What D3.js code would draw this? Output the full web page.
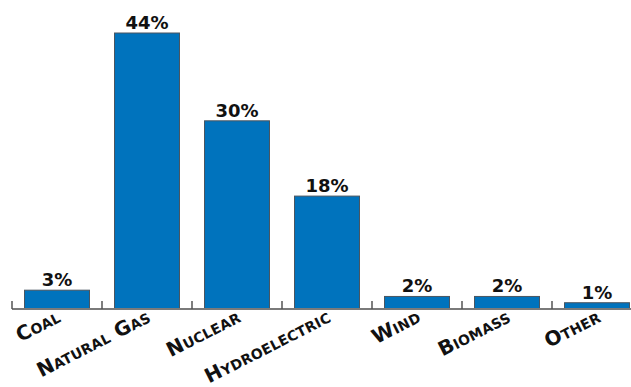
<!DOCTYPE html>
<html>
<head>
<meta charset="utf-8">
<script src="https://cdn.jsdelivr.net/npm/d3@7"></script>
<style>
  body { margin: 0; background: #fff; }
  svg { display: block; }
</style>
</head>
<body>
<div id="chart"></div>
<script>
const categories = ["Coal", "Natural Gas", "Nuclear", "Hydroelectric", "Wind", "Biomass", "Other"];
const shares = [3, 44, 30, 18, 2, 2, 1];

const width = 631, height = 387;
const baseline = 309;

const svg = d3.select("#chart").append("svg")
    .attr("width", width)
    .attr("height", height);

// Scales
const xScale = d3.scaleBand()
    .domain(categories)
    .range([12, 642])
    .paddingInner(0.278)
    .paddingOuter(0.139);

const yScale = d3.scaleLinear()
    .domain([0, 44])
    .range([baseline, 33]);

const step = xScale.step();
const gap = step * xScale.paddingInner() / 2;

// Bars
svg.selectAll(".bar")
    .data(categories)
    .enter()
    .append("rect")
    .attr("class", "bar")
    .attr("x", d => xScale(d))
    .attr("y", (d, i) => yScale(shares[i]))
    .attr("width", xScale.bandwidth())
    .attr("height", (d, i) => baseline - yScale(shares[i]))
    .attr("fill", "#0073bd")
    .attr("stroke", "#4a5560")
    .attr("stroke-width", 1);

// Axis line and ticks at band boundaries
svg.append("line")
    .attr("x1", 12).attr("x2", width)
    .attr("y1", baseline).attr("y2", baseline)
    .attr("stroke", "#7a7a7a")
    .attr("stroke-width", 2);

svg.selectAll(".tick")
    .data(categories)
    .enter()
    .append("line")
    .attr("class", "tick")
    .attr("x1", d => xScale(d) - gap)
    .attr("x2", d => xScale(d) - gap)
    .attr("y1", baseline - 8)
    .attr("y2", baseline)
    .attr("stroke", "#555")
    .attr("stroke-width", 1.5);

// Value labels
svg.selectAll(".bar-label")
    .data(categories)
    .enter()
    .append("text")
    .attr("class", "bar-label")
    .attr("x", d => xScale(d) + xScale.bandwidth() / 2)
    .attr("y", (d, i) => yScale(shares[i]) - 4)
    .attr("text-anchor", "middle")
    .style("font-family", "'DejaVu Sans', sans-serif")
    .style("font-size", "18px")
    .style("font-weight", "bold")
    .style("fill", "#111")
    .text((d, i) => shares[i] + "%");

// Category labels, rotated
svg.selectAll(".cat-label")
    .data(categories)
    .enter()
    .append("text")
    .attr("class", "cat-label")
    .attr("transform", d => `translate(${xScale(d) + xScale.bandwidth() / 2 + 5},${baseline + 12}) rotate(-27)`)
    .attr("text-anchor", "end")
    .style("font-family", "'DejaVu Sans', sans-serif")
    .style("font-size", "20px")
    .style("font-weight", "bold")
    .style("font-variant", "small-caps")
    .style("letter-spacing", "0.2px")
    .style("fill", "#111")
    .text(d => d);
</script>
</body>
</html>
